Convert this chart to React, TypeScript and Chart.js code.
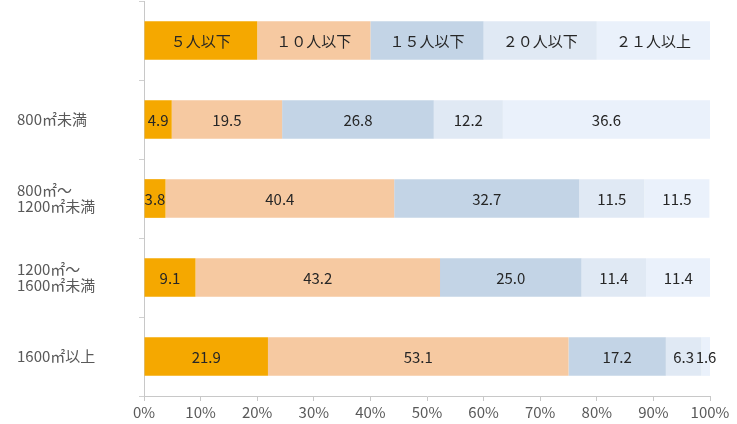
import React, { useEffect, useRef } from "react";
import { Chart, registerables } from "chart.js";

Chart.register(...registerables);

const categories: (string | string[])[] = [
  "",
  ["800㎡未満"],
  ["800㎡～", "1200㎡未満"],
  ["1200㎡～", "1600㎡未満"],
  ["1600㎡以上"],
];
const seriesNames = ["５人以下", "１０人以下", "１５人以下", "２０人以下", "２１人以上"];
const s5 = [20, 4.9, 3.8, 9.1, 21.9];
const s10 = [20, 19.5, 40.4, 43.2, 53.1];
const s15 = [20, 26.8, 32.7, 25.0, 17.2];
const s20 = [20, 12.2, 11.5, 11.4, 6.3];
const s21 = [20, 36.6, 11.5, 11.4, 1.6];
const seriesValues = [s5, s10, s15, s20, s21];
const seriesColors = ["#F5A800", "#F6C9A1", "#C3D4E6", "#E0E9F4", "#EAF1FB"];

const FONT = '"Noto Sans CJK JP", "Noto Sans", sans-serif';

const labelPlugin = {
  id: "barLabels",
  afterDatasetsDraw(chart: any) {
    const ctx = chart.ctx;
    ctx.save();
    ctx.font = `15px ${FONT}`;
    ctx.fillStyle = "#262626";
    ctx.textAlign = "center";
    ctx.textBaseline = "middle";
    chart.data.datasets.forEach((ds: any, di: number) => {
      const meta = chart.getDatasetMeta(di);
      meta.data.forEach((el: any, i: number) => {
        const { x, base, y } = el.getProps(["x", "base", "y"], true);
        const text = i === 0 ? ds.label : Number(ds.data[i]).toFixed(1);
        ctx.fillText(text, (x + base) / 2, y + 1);
      });
    });
    ctx.restore();
  },
};

export default function App() {
  const ref = useRef<HTMLCanvasElement | null>(null);
  useEffect(() => {
    if (!ref.current) return;
    Chart.defaults.font.family = FONT;
    const chart = new Chart(ref.current, {
      type: "bar",
      data: {
        labels: categories as any,
        datasets: seriesNames.map((name, i) => ({
          label: name,
          data: seriesValues[i],
          backgroundColor: seriesColors[i],
          borderWidth: 0,
          categoryPercentage: 1,
          barPercentage: 0.49,
        })),
      },
      options: {
        indexAxis: "y",
        animation: false,
        responsive: false,
        layout: { padding: { left: 17, right: 27, top: 1, bottom: 0 } },
        plugins: {
          legend: { display: false },
          tooltip: { enabled: false },
        },
        scales: {
          x: {
            stacked: true,
            min: 0,
            max: 100,
            ticks: {
              stepSize: 10,
              callback: (v: any) => `${v}%`,
              color: "#595959",
              font: { size: 15, family: FONT },
              padding: 2,
              maxRotation: 0,
            },
            grid: {
              drawOnChartArea: false,
              drawTicks: true,
              tickLength: 5,
              color: "#c8c8c8",
            },
            border: { display: true, color: "#c8c8c8" },
            afterFit: (scale: any) => {
              scale.height = 28;
            },
          },
          y: {
            stacked: true,
            ticks: {
              color: "#595959",
              font: { size: 15, family: FONT, lineHeight: 1.1 },
              crossAlign: "far",
            },
            grid: {
              offset: true,
              drawOnChartArea: false,
              drawTicks: true,
              tickLength: 5,
              color: "#d0d0d0",
            },
            border: { display: true, color: "#c8c8c8" },
            afterFit: (scale: any) => {
              scale.width = 127;
              scale.paddingTop = 0;
              scale.paddingBottom = 0;
            },
          },
        },
      },
      plugins: [labelPlugin],
    } as any);
    return () => chart.destroy();
  }, []);
  return (
    <div style={{ position: "absolute", left: 0, top: 0, width: 737, height: 424 }}>
      <canvas ref={ref} width={737} height={424} style={{ display: "block" }} />
    </div>
  );
}
